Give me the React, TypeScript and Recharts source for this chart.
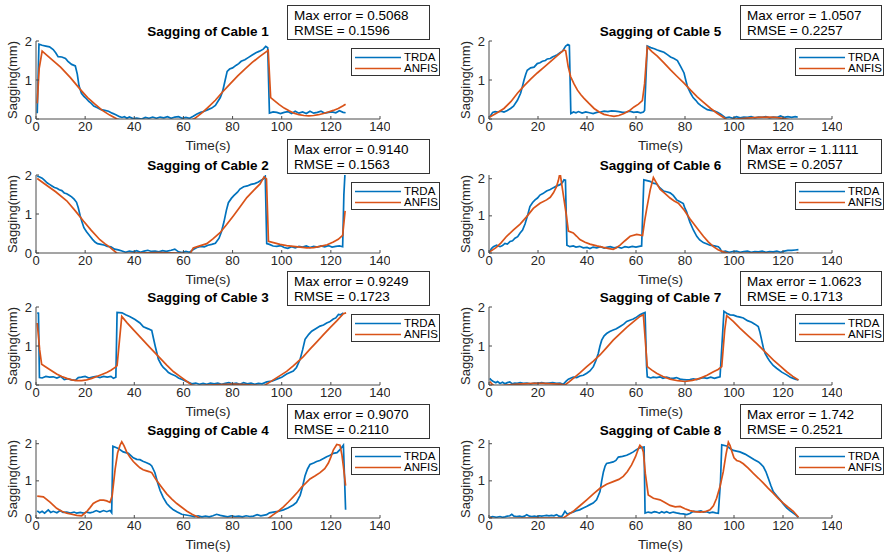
import { LineChart, Line, XAxis, YAxis } from "recharts";

type Pt = [number, number];

const FONT = '"Liberation Sans", Arial, Helvetica, sans-serif';
const BLUE = "#0072BD";
const ORANGE = "#D95319";
const AXIS = "#4a4a4a";

const titles = [
  "Sagging of Cable 1",
  "Sagging of Cable 2",
  "Sagging of Cable 3",
  "Sagging of Cable 4",
  "Sagging of Cable 5",
  "Sagging of Cable 6",
  "Sagging of Cable 7",
  "Sagging of Cable 8",
];
const maxErrors = ["0.5068", "0.9140", "0.9249", "0.9070", "1.0507", "1.1111", "1.0623", "1.742"];
const rmses = ["0.1596", "0.1563", "0.1723", "0.2110", "0.2257", "0.2057", "0.1713", "0.2521"];
const yMaxes = [2, 2, 2, 2.1, 2, 2.1, 2, 2.1];
const xTicks = [0, 20, 40, 60, 80, 100, 120, 140];
const yTicks = [0, 1, 2];

// [time (s), sagging (mm)]
const cable1Trda: Pt[] = [[0.5,0.15],[1.2,1.92],[2.5,1.89],[4,1.87],[5.5,1.85],[7,1.78],[8,1.7],[9,1.6],[10.5,1.59],[12,1.55],[13,1.48],[14.5,1.4],[16,1.36],[16.8,1.15],[17.5,0.85],[18.5,0.66],[19.5,0.58],[20.5,0.52],[21.5,0.45],[22.5,0.4],[23.5,0.33],[25,0.29],[26.5,0.24],[28,0.22],[29.5,0.2],[31,0.15],[32.5,0.11],[34,0.06],[35,0.04],[36,0.06],[37,0.02],[38,0.05],[39.5,0.01],[41,0.02],[43,0.0],[44.5,0.04],[46,0.02],[47.5,0.05],[49,0.02],[50.5,0.05],[52,0.03],[53.5,0.06],[55,0.02],[56.5,0.05],[58,0.06],[59.5,0.02],[61,0.04],[62.5,0.02],[64,0.07],[65.5,0.13],[67,0.17],[68.5,0.2],[70,0.24],[71.5,0.28],[73,0.35],[74,0.45],[75,0.55],[76,0.72],[77,1.0],[77.8,1.22],[78.8,1.28],[80,1.31],[81.5,1.38],[82.5,1.42],[83.5,1.48],[85,1.52],[86.5,1.58],[88,1.64],[89.5,1.7],[91,1.74],[92.5,1.79],[93.5,1.86],[94.3,1.83],[95,0.15],[96.5,0.18],[98,0.17],[99.5,0.14],[101,0.17],[102.5,0.19],[104,0.14],[105.5,0.2],[107,0.15],[108.5,0.18],[110,0.14],[111.5,0.2],[113,0.15],[114.5,0.17],[116,0.2],[117.5,0.15],[119,0.17],[120.5,0.18],[122,0.16],[123.5,0.21],[125,0.17],[126,0.16]];
const cable1Anfis: Pt[] = [[0.5,0.4],[1.3,1.3],[2.5,1.74],[6,1.55],[10,1.33],[14,1.06],[18,0.76],[21,0.55],[24,0.38],[27,0.22],[30,0.1],[33,0.0],[34,-0.02],[45,-0.02],[55,-0.02],[63.5,-0.02],[64.5,0.01],[66,0.08],[68,0.18],[70,0.3],[73,0.48],[76,0.7],[79,0.9],[82,1.1],[85,1.28],[88,1.45],[91,1.6],[94.5,1.76],[95.5,0.55],[97,0.47],[99,0.37],[101,0.28],[103,0.21],[105,0.15],[107,0.11],[109,0.09],[111,0.08],[113,0.09],[115,0.11],[117,0.14],[119,0.18],[121,0.22],[123,0.27],[125,0.34],[126,0.38]];

const cable2Trda: Pt[] = [[0.5,1.97],[1.5,1.95],[2.5,1.92],[3.5,1.86],[4.5,1.8],[5.5,1.76],[6.5,1.72],[7.5,1.68],[8.5,1.66],[9.5,1.62],[10.5,1.6],[11.5,1.54],[12.5,1.52],[13.5,1.48],[14.5,1.44],[15.5,1.38],[16.5,1.3],[17.2,1.16],[18,0.95],[18.6,0.82],[19.5,0.65],[20.5,0.55],[22,0.43],[23,0.35],[24,0.28],[25,0.24],[26.5,0.22],[28,0.2],[29,0.17],[30.5,0.16],[32,0.1],[33.5,0.08],[35,0.05],[36.5,0.02],[38,0.05],[39.5,0.03],[41,0.06],[42.5,0.02],[44,0.05],[45.5,0.07],[47,0.04],[48.5,0.05],[50,0.03],[51.5,0.06],[53,0.04],[55,0.07],[56.5,0.1],[58,0.03],[59.5,0.01],[61,0.04],[62.5,0.02],[64,0.09],[65.5,0.14],[67,0.17],[68.5,0.16],[70,0.2],[71.5,0.22],[73,0.25],[74.5,0.38],[75.5,0.55],[76.5,0.8],[77.5,1.1],[78.3,1.29],[79.5,1.4],[80.5,1.47],[82,1.56],[83,1.64],[84.5,1.7],[86,1.72],[87.5,1.76],[89,1.78],[90.5,1.82],[91.5,1.86],[92.5,1.9],[93.3,1.97],[93.9,0.24],[95,0.22],[96.5,0.18],[98,0.17],[99.5,0.19],[101,0.14],[102.5,0.12],[104,0.16],[105.5,0.13],[107,0.17],[108.5,0.15],[110,0.18],[111.5,0.14],[113,0.17],[114.5,0.15],[116,0.18],[117.5,0.16],[119,0.19],[120.5,0.15],[122,0.17],[123.5,0.18],[124.8,0.16],[125.3,1.5],[125.8,2.1]];
const cable2Anfis: Pt[] = [[0.5,1.91],[4,1.75],[8,1.57],[12.5,1.34],[16,1.08],[19.3,0.82],[22.5,0.58],[26,0.34],[28,0.24],[30,0.15],[32.8,0.0],[34.2,-0.02],[40,0.0],[50,0.01],[58,0.0],[62.7,-0.02],[64,0.13],[66,0.17],[69.5,0.24],[72,0.36],[74.9,0.52],[77.6,0.73],[80.3,0.95],[83,1.18],[85.8,1.42],[88.5,1.6],[91.2,1.77],[92.8,1.95],[93.8,1.9],[94.6,0.3],[97,0.26],[99.3,0.22],[102,0.19],[104.7,0.17],[107.5,0.15],[110.2,0.13],[113,0.14],[115.6,0.17],[118.5,0.21],[121,0.28],[123,0.35],[124.8,0.45],[125.8,1.08]];

const cable3Trda: Pt[] = [[0.5,1.85],[1,1.84],[1.4,0.19],[2.5,0.18],[4,0.22],[5.5,0.2],[7,0.21],[8.5,0.18],[10,0.22],[11.5,0.14],[13,0.16],[14.5,0.13],[16,0.12],[17.2,0.19],[18.5,0.2],[20,0.22],[21.5,0.18],[23,0.2],[24.5,0.22],[26,0.19],[27.5,0.22],[29,0.2],[30.5,0.22],[31.5,0.17],[32.5,0.2],[33,1.86],[35,1.85],[36.5,1.8],[38.3,1.75],[40.3,1.68],[42.3,1.59],[43.7,1.49],[45.7,1.44],[47.1,1.4],[47.8,1.2],[48.5,1.0],[49.8,0.66],[51,0.52],[51.8,0.45],[53,0.38],[53.9,0.32],[55,0.28],[56.6,0.24],[58,0.18],[59.5,0.14],[61,0.1],[62.5,0.06],[63.4,0.03],[65,0.05],[66.5,0.02],[68,0.04],[69.5,0.02],[71,0.05],[72.5,0.03],[74,0.05],[75.5,0.02],[77,0.04],[78.5,0.06],[80,0.03],[81.5,0.05],[83,0.02],[84.5,0.06],[86,0.03],[87.5,0.05],[89,0.02],[90.5,0.04],[92,0.03],[93.9,0.08],[96,0.1],[98,0.15],[100,0.2],[102,0.28],[104.7,0.36],[106,0.45],[107.5,0.66],[108.5,0.9],[109.5,1.17],[111,1.3],[112.2,1.38],[114,1.45],[115.6,1.51],[117,1.54],[118.3,1.59],[119.5,1.62],[121,1.69],[122,1.72],[123.1,1.81],[124,1.8],[125.1,1.85]];
const cable3Anfis: Pt[] = [[0.5,1.59],[1.5,0.9],[2.3,0.53],[4.3,0.45],[6.5,0.36],[8.4,0.28],[10.5,0.22],[12.5,0.17],[14.5,0.13],[16.6,0.11],[18.6,0.11],[20.6,0.13],[22.7,0.17],[24.7,0.22],[26.8,0.27],[28.8,0.32],[30.5,0.38],[32.2,0.45],[33,0.5],[34.9,1.76],[37,1.6],[39.6,1.42],[43,1.19],[46.4,0.96],[50,0.72],[53.2,0.51],[56,0.34],[58.6,0.22],[61,0.11],[63.4,0.0],[65.4,-0.02],[70,0.0],[75,0.01],[80,0.02],[85,0.01],[90,-0.01],[92.5,-0.03],[95.3,0.08],[99.3,0.24],[102,0.35],[104.7,0.49],[108.8,0.73],[111.5,0.92],[114.2,1.1],[117,1.29],[119.7,1.47],[122.5,1.65],[125.1,1.83],[126.2,1.85]];

const cable4Trda: Pt[] = [[0.5,0.19],[1.5,0.14],[2.5,0.18],[3.5,0.13],[5,0.22],[6,0.15],[7,0.18],[8.5,0.14],[9.8,0.2],[11,0.15],[12.5,0.16],[14,0.13],[15.5,0.16],[16.6,0.13],[18,0.15],[19.3,0.13],[20.5,0.16],[22,0.14],[23.3,0.16],[24.5,0.2],[26,0.16],[27.5,0.2],[28.8,0.17],[30.1,0.2],[30.8,0.14],[31.3,1.93],[33.5,1.87],[35.5,1.78],[37.6,1.74],[39.6,1.62],[41,1.58],[42.3,1.57],[43.5,1.53],[45,1.49],[46.3,1.45],[47.1,1.4],[48.4,1.22],[49.5,0.95],[50.5,0.74],[51.8,0.55],[53.2,0.39],[54.5,0.3],[55.9,0.22],[57.5,0.16],[59.3,0.1],[61,0.08],[62.7,0.06],[64.5,0.04],[66,0.06],[67.5,0.03],[69,0.05],[70.5,0.03],[72,0.06],[73.5,0.1],[75,0.07],[76.5,0.05],[78,0.03],[79.5,0.06],[81,0.04],[82.5,0.05],[84,0.03],[85.5,0.06],[87,0.04],[88.5,0.05],[90,0.09],[91.5,0.06],[93.9,0.09],[95,0.14],[96.6,0.16],[98.5,0.18],[100.7,0.22],[102.5,0.27],[104.7,0.35],[106,0.42],[107.5,0.61],[108.5,0.85],[109.5,1.14],[110.5,1.32],[111.5,1.44],[113,1.48],[114.2,1.52],[115.5,1.55],[117,1.6],[118.3,1.65],[119.5,1.68],[121,1.74],[122.5,1.76],[123.7,1.84],[125.1,1.96],[125.5,1.2],[126,0.22]];
const cable4Anfis: Pt[] = [[0.5,0.59],[3,0.57],[5.7,0.43],[8.4,0.26],[10.5,0.18],[12.5,0.13],[14.5,0.1],[16.6,0.07],[18.6,0.06],[20.6,0.17],[22,0.28],[23.3,0.39],[24.5,0.44],[26,0.48],[27.5,0.48],[28.8,0.46],[30.1,0.42],[31,0.6],[32.2,1.31],[33.2,1.75],[34.2,1.96],[34.9,2.05],[35.8,1.95],[36.9,1.78],[38.2,1.64],[39.6,1.52],[41,1.43],[42.3,1.35],[43.6,1.3],[45,1.27],[46,1.25],[47.1,1.22],[48,1.12],[49.1,1.01],[51,0.84],[53.2,0.65],[55.3,0.51],[57.3,0.39],[59.3,0.29],[61.3,0.19],[63.5,0.1],[65.4,0.04],[67.4,-0.03],[72,-0.02],[80,-0.01],[87,-0.02],[91.2,-0.02],[93.9,-0.04],[96.6,0.09],[98.5,0.18],[100.7,0.3],[102.7,0.43],[104.7,0.57],[106.5,0.7],[108.1,0.83],[110,0.95],[111.5,1.05],[113.5,1.13],[115.6,1.22],[117.5,1.33],[119,1.48],[120,1.64],[121,1.83],[122.4,1.98],[123.7,1.96],[124.5,1.7],[125.1,1.39],[126,0.87]];

const cable5Trda: Pt[] = [[0.3,0.05],[1.5,0.17],[2.5,0.19],[3.5,0.18],[5,0.2],[6.1,0.18],[7.5,0.22],[8.8,0.27],[10,0.33],[11.6,0.48],[12.9,0.66],[13.7,0.85],[14.3,1.0],[15,1.15],[15.6,1.25],[17,1.31],[18.4,1.33],[19.7,1.42],[20.8,1.44],[21.8,1.48],[23,1.5],[23.8,1.54],[25,1.55],[25.9,1.59],[27,1.62],[27.9,1.65],[29,1.7],[30,1.74],[31.3,1.87],[32.2,1.91],[32.8,1.89],[33.4,0.14],[34.5,0.18],[35.5,0.16],[36.5,0.19],[38,0.15],[39.5,0.18],[41,0.16],[42.5,0.14],[44,0.17],[45.5,0.18],[47,0.2],[48.5,0.19],[50,0.21],[51.5,0.2],[53,0.19],[54.5,0.17],[56,0.18],[57.5,0.2],[59,0.17],[60.5,0.18],[61.9,0.16],[63,0.18],[63.5,0.22],[64.6,1.87],[66,1.83],[67.5,1.8],[68.7,1.77],[70,1.74],[71.4,1.71],[72.8,1.65],[74.1,1.59],[75.5,1.55],[76.9,1.5],[78.2,1.35],[79.6,1.18],[80.3,1.0],[81,0.83],[82.3,0.66],[83.3,0.55],[84.4,0.48],[85.4,0.4],[86.4,0.35],[87.5,0.3],[89.1,0.24],[90.5,0.22],[91.8,0.21],[93.2,0.17],[94.6,0.12],[96.6,0.03],[98,0.05],[99.5,0.02],[101,0.06],[102.5,0.03],[104,0.05],[105.5,0.04],[107,0.06],[108.5,0.03],[110,0.05],[111.5,0.04],[113,0.06],[114.5,0.03],[116,0.05],[117.5,0.04],[119,0.08],[120.5,0.04],[122,0.06],[123.5,0.04],[125,0.06],[126,0.05]];
const cable5Anfis: Pt[] = [[0.3,0.05],[3,0.15],[6.1,0.27],[9,0.45],[11.6,0.66],[14.3,0.85],[17,1.02],[19.7,1.18],[22.5,1.33],[25.2,1.48],[28,1.63],[30.6,1.77],[31.3,1.75],[32.3,1.35],[33.3,1.09],[34.7,0.9],[36.1,0.74],[37.5,0.62],[38.8,0.53],[40.8,0.4],[42.9,0.27],[45,0.18],[46.9,0.12],[49,0.09],[51,0.07],[53,0.09],[55.1,0.14],[57.2,0.21],[59.2,0.31],[61,0.38],[62.6,0.47],[63.5,0.9],[64.6,1.85],[66.5,1.73],[68.7,1.61],[71.4,1.44],[74.1,1.26],[76.8,1.09],[79.6,0.92],[82.3,0.74],[85,0.57],[87.7,0.42],[90.5,0.27],[93.2,0.14],[95.9,0.03],[97.3,-0.03],[100,-0.01],[103,0.01],[106.8,0.03],[110,0.04],[113.6,0.05],[117,0.04],[120.4,0.01],[123,-0.02],[125.9,-0.05]];

const cable6Trda: Pt[] = [[0.3,0.03],[1,0.12],[1.8,0.17],[3.1,0.21],[4.5,0.17],[5.5,0.2],[6.5,0.26],[7.5,0.24],[8.6,0.31],[9.6,0.33],[10.6,0.4],[11.7,0.44],[12.7,0.54],[13.7,0.62],[14.7,0.78],[15.7,1.0],[16.7,1.25],[17.8,1.36],[18.8,1.43],[19.8,1.48],[20.8,1.56],[22,1.6],[23.5,1.67],[25,1.71],[26.3,1.76],[27.5,1.8],[29,1.84],[30,1.9],[30.6,1.97],[31.2,1.96],[31.8,0.21],[33,0.17],[34.4,0.19],[35.5,0.16],[37,0.18],[38.5,0.14],[40,0.15],[41.2,0.12],[42.5,0.16],[44,0.14],[45.5,0.17],[47,0.13],[48,0.15],[49.5,0.17],[51,0.14],[52.5,0.16],[54,0.13],[55.5,0.17],[57,0.15],[58.5,0.18],[60,0.16],[61.3,0.18],[62.3,0.19],[63.2,1.97],[64.5,1.95],[65.7,1.93],[67,1.88],[68.4,1.86],[69.8,1.75],[71.2,1.67],[72.5,1.65],[73.9,1.62],[75.2,1.55],[76.6,1.43],[78,1.38],[79.3,1.33],[80,1.2],[80.7,1.1],[81.4,0.95],[82,0.83],[83.4,0.62],[84.8,0.45],[86,0.35],[87.5,0.28],[89,0.24],[90.2,0.21],[92,0.19],[93.6,0.17],[94.3,0.12],[95,0.03],[96.5,0.05],[98,0.02],[99.5,0.04],[101,0.05],[102.5,0.02],[104,0.04],[105.5,0.05],[107,0.02],[108.5,0.04],[110,0.03],[111.5,0.05],[113,0.02],[114.5,0.04],[116,0.03],[117.5,0.05],[119,0.02],[120.5,0.05],[122,0.07],[123.5,0.07],[125,0.08],[126.3,0.09]];
const cable6Anfis: Pt[] = [[0.3,0.03],[3,0.15],[5,0.28],[7.2,0.45],[10,0.62],[12.7,0.78],[15.4,0.98],[18.1,1.2],[20.8,1.34],[23.5,1.43],[25,1.5],[26.3,1.62],[27.5,1.78],[28.3,1.95],[29,2.16],[29.7,1.85],[30.3,1.58],[31.5,1.05],[32.4,0.59],[34.4,0.54],[35.8,0.45],[37.1,0.36],[39.2,0.29],[41.2,0.24],[44,0.19],[46.7,0.15],[49,0.12],[50.7,0.1],[52,0.14],[53.5,0.21],[55.5,0.33],[57.6,0.45],[60.3,0.5],[62.7,0.47],[63.5,0.85],[64.4,1.2],[65.8,1.7],[67.1,2.03],[68.4,1.88],[69.8,1.72],[71.9,1.6],[73.9,1.48],[75.6,1.4],[77.3,1.34],[79.7,1.15],[82,0.92],[84.8,0.68],[87.5,0.45],[89.5,0.3],[91.6,0.17],[93.5,0.09],[95.6,0.03],[98.4,-0.02],[103,-0.01],[109,0.0],[115,-0.01],[120,-0.02],[122.9,-0.04],[124.2,-0.06],[126.3,0.01]];

const cable7Trda: Pt[] = [[0.3,0.17],[1,0.12],[1.8,0.09],[2.8,0.06],[3.5,0.09],[4.5,0.04],[5.5,0.07],[6.5,0.03],[7.5,0.06],[8.5,0.08],[9.5,0.03],[10.5,0.05],[11.5,0.04],[12.7,0.06],[14,0.04],[15.5,0.05],[17,0.03],[18.5,0.05],[20,0.04],[21.5,0.06],[23,0.04],[24.5,0.05],[26,0.06],[27.5,0.04],[29,0.05],[30.3,0.02],[31.5,0.1],[32.4,0.15],[33.5,0.18],[34.4,0.2],[35.8,0.19],[37.1,0.23],[38.5,0.25],[39.9,0.3],[41.2,0.36],[42.6,0.47],[43.6,0.62],[44.6,0.81],[45.3,1.0],[46,1.15],[47,1.26],[48,1.32],[49.3,1.37],[50.7,1.41],[52,1.44],[53.5,1.5],[55,1.56],[56.2,1.63],[57.5,1.66],[58.9,1.69],[60.2,1.74],[61.6,1.8],[62.6,1.83],[63.7,1.86],[64.3,0.5],[64.6,0.21],[66,0.18],[67,0.2],[68.4,0.19],[69.8,0.21],[71,0.17],[72.5,0.2],[73.8,0.18],[75.2,0.17],[76.5,0.19],[78,0.15],[79.3,0.14],[80.7,0.13],[82,0.14],[83.4,0.16],[84.8,0.14],[86.1,0.17],[87.5,0.19],[89,0.17],[90.5,0.2],[92,0.17],[93,0.19],[94.3,0.21],[95.9,1.89],[97,1.84],[98.4,1.8],[99.8,1.79],[101.1,1.76],[102.5,1.74],[103.8,1.72],[105.5,1.65],[107.2,1.61],[108.5,1.56],[109.9,1.5],[110.6,1.35],[111.3,1.15],[112,0.95],[112.7,0.81],[113.7,0.7],[114.7,0.6],[116,0.5],[117.4,0.43],[119.5,0.33],[121.5,0.26],[123,0.2],[124.2,0.17],[125.3,0.14],[126.3,0.13]];
const cable7Anfis: Pt[] = [[0.3,0.09],[1.3,0.02],[2.4,-0.04],[4.5,-0.02],[7.2,0.0],[12,0.02],[18.1,0.04],[22,0.04],[26.3,0.03],[29,0.02],[31,0.0],[32.7,0.08],[34.4,0.17],[37.1,0.31],[39.9,0.47],[42.6,0.61],[45.3,0.77],[48,0.96],[50.7,1.15],[53.5,1.32],[56.2,1.48],[58.9,1.62],[61.6,1.76],[63,1.8],[64.6,0.47],[66.5,0.38],[68.4,0.3],[71,0.22],[73.9,0.15],[77,0.11],[80,0.09],[83,0.12],[86.1,0.17],[89,0.25],[91.6,0.34],[93.5,0.4],[95,0.47],[96.2,1.4],[97,1.78],[99.7,1.63],[102.4,1.46],[105.8,1.26],[109.3,1.06],[112.7,0.85],[116.1,0.64],[118.8,0.49],[121.5,0.34],[124,0.22],[126.3,0.13]];

const cable8Trda: Pt[] = [[0.3,0.02],[1.5,0.04],[3,0.02],[4.5,0.04],[5.5,0.02],[6.5,0.03],[7.5,0.05],[8.5,0.06],[9.3,0.1],[10.2,0.05],[11.3,0.04],[12.5,0.05],[13.5,0.03],[14.5,0.05],[15.4,0.09],[16.5,0.05],[17.5,0.04],[18.5,0.05],[19.5,0.04],[20.5,0.06],[21.5,0.05],[22.5,0.06],[23.5,0.07],[24.5,0.06],[25.5,0.07],[26.5,0.06],[27.6,0.09],[28.5,0.05],[29.7,0.04],[30.3,0.1],[31,0.18],[32,0.1],[33,0.13],[34.5,0.16],[35.8,0.2],[37,0.22],[38.5,0.27],[39.8,0.31],[41.2,0.36],[42.5,0.4],[43.9,0.49],[44.6,0.6],[45.3,0.71],[46,1.0],[46.7,1.24],[47.4,1.4],[48,1.47],[49.5,1.49],[50.7,1.51],[51.8,1.55],[52.8,1.64],[54.5,1.66],[56.2,1.69],[57.5,1.73],[58.9,1.78],[60.2,1.84],[61.6,1.89],[62.5,1.9],[63.3,1.91],[63.7,0.13],[65,0.16],[66.3,0.14],[67.5,0.17],[68.4,0.16],[69.5,0.13],[70.5,0.17],[71.5,0.14],[72.5,0.17],[73.8,0.13],[75.2,0.16],[76.5,0.14],[78,0.12],[79.3,0.11],[80.7,0.09],[82,0.12],[83.4,0.18],[85,0.17],[86.5,0.19],[87.5,0.16],[88.8,0.17],[90,0.14],[91.3,0.16],[92.5,0.14],[93.6,0.13],[94.5,1.0],[95,1.97],[97,1.94],[98.4,1.87],[99.7,1.82],[101,1.8],[102.4,1.78],[104.5,1.72],[106.5,1.64],[108.3,1.57],[110,1.51],[111,1.45],[112,1.38],[113,1.25],[114,1.07],[115,0.88],[116,0.71],[117.4,0.6],[118.8,0.49],[120.1,0.38],[121.5,0.27],[122.8,0.2],[124.2,0.13],[125.3,0.08],[126.3,0.02]];
const cable8Anfis: Pt[] = [[0.3,0.02],[1.3,-0.01],[2.4,-0.04],[4.5,-0.03],[7.2,-0.02],[12,-0.01],[18.1,0.0],[24,0.0],[30.3,0.0],[32.4,0.09],[34.4,0.18],[37.1,0.33],[39.9,0.49],[42.6,0.65],[45.3,0.8],[48,0.91],[50.7,0.98],[53,1.04],[54.8,1.12],[56.5,1.25],[58.2,1.43],[59.8,1.65],[61,1.87],[61.6,1.96],[62.4,1.9],[63,1.78],[63.8,1.2],[65,0.62],[67.1,0.53],[69.8,0.49],[71.8,0.42],[73.9,0.34],[76,0.3],[78,0.31],[80,0.25],[82,0.2],[84,0.17],[86.1,0.16],[88.2,0.17],[90.2,0.22],[91.6,0.33],[92.9,0.53],[94.3,0.85],[95.6,1.24],[96.7,1.7],[97.7,2.04],[98.4,1.95],[99,1.82],[100,1.62],[101.1,1.55],[102.4,1.52],[103.8,1.46],[105.8,1.34],[107.9,1.2],[110,1.07],[112,0.94],[114,0.8],[116,0.67],[118,0.53],[120.1,0.4],[122.1,0.29],[124.2,0.18],[126.3,0.02]];

const trdaSeries = [cable1Trda, cable2Trda, cable3Trda, cable4Trda, cable5Trda, cable6Trda, cable7Trda, cable8Trda];
const anfisSeries = [cable1Anfis, cable2Anfis, cable3Anfis, cable4Anfis, cable5Anfis, cable6Anfis, cable7Anfis, cable8Anfis];

const colLefts = [36, 489];
const plotWidths = [344, 343];
const boxLefts = [287, 740];
const legendLefts = [351, 795];
const rowTops = [41, 175, 307, 440];
const PLOT_H = 78;

const toPoints = (arr: Pt[]) => arr.map(([t, v]) => ({ t, v }));

function CablePanel({ idx }: { idx: number }) {
  const col = idx < 4 ? 0 : 1;
  const row = idx % 4;
  const left = colLefts[col];
  const width = plotWidths[col];
  const top = rowTops[row];
  const yMax = yMaxes[idx];
  const tickStyle = { fontSize: 13, fill: "#262626", fontFamily: FONT };

  return (
    <>
      <div style={{ position: "absolute", left: left - 36, top: top - 10 }}>
        <LineChart
          width={36 + width + 10}
          height={10 + PLOT_H + 24}
          margin={{ top: 10, right: 10, left: 0, bottom: 0 }}
        >
          <XAxis
            xAxisId="b"
            dataKey="t"
            type="number"
            domain={[0, 140]}
            ticks={xTicks}
            allowDataOverflow
            height={24}
            stroke={AXIS}
            tickSize={-3}
            tickMargin={6}
            tick={tickStyle}
          />
          <XAxis
            xAxisId="top"
            orientation="top"
            type="number"
            domain={[0, 140]}
            ticks={xTicks}
            allowDataOverflow
            height={0}
            stroke={AXIS}
            tickSize={-3}
            tickFormatter={() => ""}
          />
          <YAxis
            yAxisId="l"
            type="number"
            domain={[0, yMax]}
            ticks={yTicks}
            allowDataOverflow
            width={36}
            stroke={AXIS}
            tickSize={-3}
            tickMargin={7}
            tick={tickStyle}
          />
          <YAxis
            yAxisId="r"
            orientation="right"
            type="number"
            domain={[0, yMax]}
            ticks={yTicks}
            allowDataOverflow
            width={0}
            stroke={AXIS}
            tickSize={-3}
            tickFormatter={() => ""}
          />
          <Line
            xAxisId="b"
            yAxisId="l"
            data={toPoints(trdaSeries[idx])}
            dataKey="v"
            type="linear"
            stroke={BLUE}
            strokeWidth={1.7}
            dot={false}
            activeDot={false}
            isAnimationActive={false}
          />
          <Line
            xAxisId="b"
            yAxisId="l"
            data={toPoints(anfisSeries[idx])}
            dataKey="v"
            type="linear"
            stroke={ORANGE}
            strokeWidth={1.7}
            dot={false}
            activeDot={false}
            isAnimationActive={false}
          />
        </LineChart>
      </div>

      <div
        style={{
          position: "absolute",
          left,
          width,
          top: top - 17,
          lineHeight: "16px",
          textAlign: "center",
          fontWeight: "bold",
          fontSize: 13.5,
          color: "#000",
        }}
      >
        {titles[idx]}
      </div>

      <div
        style={{
          position: "absolute",
          left: left + width / 2,
          top: top + PLOT_H + 26,
          transform: "translate(-50%, -50%)",
          fontSize: 13.5,
          color: "#262626",
          whiteSpace: "nowrap",
        }}
      >
        Time(s)
      </div>

      <div
        style={{
          position: "absolute",
          left: left - 24,
          top: top + PLOT_H / 2,
          transform: "translate(-50%, -50%) rotate(-90deg)",
          fontSize: 13,
          color: "#262626",
          whiteSpace: "nowrap",
        }}
      >
        Sagging(mm)
      </div>

      <div
        style={{
          position: "absolute",
          left: boxLefts[col],
          top: top - 36,
          width: col === 0 ? 135 : 134,
          height: 33,
          border: "1px solid #333",
          background: "#fff",
          fontSize: 13.5,
          color: "#000",
          paddingLeft: 6,
          boxSizing: "content-box",
        }}
      >
        <div style={{ lineHeight: "15px", marginTop: 2 }}>Max error = {maxErrors[idx]}</div>
        <div style={{ lineHeight: "15px" }}>RMSE = {rmses[idx]}</div>
      </div>

      <div
        style={{
          position: "absolute",
          left: legendLefts[col],
          top: top + 7,
          width: 87,
          height: 26,
          border: "1px solid #333",
          background: "#fff",
          fontSize: 11.5,
          color: "#000",
        }}
      >
        {[
          { name: "TRDA", color: BLUE },
          { name: "ANFIS", color: ORANGE },
        ].map((s, i) => (
          <div
            key={s.name}
            style={{ position: "absolute", left: 3, top: 3 + i * 11, height: 11, display: "flex", alignItems: "center" }}
          >
            <svg width={46} height={11}>
              <line x1={0} x2={46} y1={5.5} y2={5.5} stroke={s.color} strokeWidth={1.7} />
            </svg>
            <span style={{ marginLeft: 3, lineHeight: "11px" }}>{s.name}</span>
          </div>
        ))}
      </div>
    </>
  );
}

export default function App() {
  return (
    <div
      style={{
        position: "absolute",
        left: 0,
        top: 0,
        width: 887,
        height: 552,
        background: "#fff",
        fontFamily: FONT,
        overflow: "hidden",
      }}
    >
      {[0, 1, 2, 3, 4, 5, 6, 7].map((i) => (
        <CablePanel key={i} idx={i} />
      ))}
    </div>
  );
}
